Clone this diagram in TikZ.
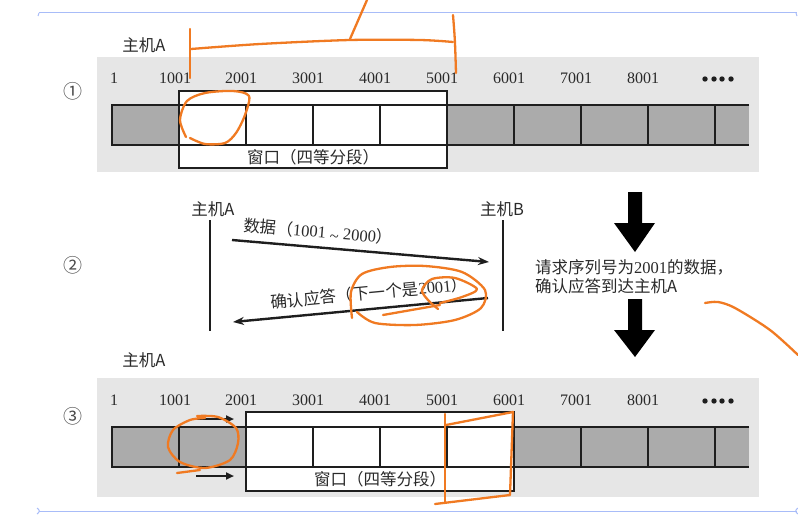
\documentclass[tikz,border=0pt]{standalone}
\usepackage{fontspec}
\setmainfont{Liberation Serif}
\newfontfamily\cjk{Noto Sans CJK SC}
\usetikzlibrary{arrows.meta}
\definecolor{ink}{HTML}{1E1E1E}
\definecolor{txt}{HTML}{2A2A2A}
\definecolor{band}{HTML}{E6E6E6}
\definecolor{cellgray}{HTML}{ABABAB}
\definecolor{penc}{HTML}{F07A22}
\definecolor{rulec}{HTML}{A8BCF8}
\begin{document}
\begin{tikzpicture}[x=1pt,y=-1pt,
  num/.style={font=\fontsize{16}{16}\selectfont, text=txt, inner sep=0pt},
  lab/.style={font=\cjk\fontsize{16.5}{17}\selectfont, text=txt, inner sep=0pt},
  circnum/.style={font=\cjk\fontsize{19}{19}\selectfont, text=txt!85, inner sep=0pt},
  barline/.style={draw=ink, line width=2.2pt},
  wbox/.style={draw=ink, line width=1.7pt, fill=white},
  hostline/.style={draw=ink, line width=2.4pt},
  msg/.style={draw=ink, line width=2.4pt, -{Stealth[length=11pt,width=8pt]}},
  slidearrow/.style={draw=ink, line width=2.4pt, -{Triangle[length=8pt,width=7pt]}},
  bigarrow/.style={fill=black},
  pen/.style={draw=penc, line width=2.3pt, line cap=round, line join=round},
  rule/.style={draw=rulec, line width=1pt}]
\useasboundingbox (0,0) rectangle (798,519);
% page rules
\draw[rule] (39,13) -- (797,13);
\draw[rule] (39,13) -- (38,16);
\draw[rule] (796,13) -- (797,16);
\draw[rule] (39,511) -- (797,511);
\draw[rule] (37,508) .. controls (40,510) and (40,512) .. (37,514);
\draw[rule] (798,508) .. controls (795,510) and (795,512) .. (798,514);

% ---------- panel 1 ----------
\node[lab] (hostA1) at (144,45) {主机A};
\node[circnum] (c1) at (73,91) {①};
\fill[band] (97,57) rectangle (759,172);
\draw[wbox] (179,91) rectangle (447,168);
\fill[cellgray] (112,105) rectangle (179,145);
\fill[cellgray] (447,105) rectangle (749,145);
\draw[barline] (749,105) -- (112,105) -- (112,145) -- (749,145);
\foreach \x in {179,246,313,380,447,514,581,648,715} \draw[barline] (\x,105) -- (\x,145);
\node[lab] (win1) at (313,157) {窗口（四等分段）};
\node[num] (ta) at (114,78) {1};
\foreach \x/\t in {175/1001,241/2001,308/3001,375/4001,442/5001,509/6001,576/7001,643/8001}
  \node[num] (t\t) at (\x,78) {\t};
\foreach \x in {705,714,722,731} \fill[ink] (\x,79) circle (2.7pt);

% ---------- panel 2 ----------
\node[circnum] (c2) at (73,265) {②};
\node[lab] (hA) at (213,209) {主机A};
\node[lab] (hB) at (502,209) {主机B};
\coordinate (hAtop) at (210,220);
\coordinate (hAbot) at (210,331);
\coordinate (hBtop) at (503,220);
\coordinate (hBbot) at (503,331);
\draw[hostline] (hAtop) -- (hAbot);
\draw[hostline] (hBtop) -- (hBbot);
\coordinate (d1) at (232,240);
\coordinate (d2) at (489,262);
\coordinate (a1) at (488,298);
\coordinate (a2) at (233,322);
\draw[msg] (d1) -- node[lab, sloped, above=6pt, pos=0.33] (ldata) {数据（{\rmfamily 1001 \raisebox{-2.5pt}{\textasciitilde} 2000}）} (d2);
\draw[msg] (a1) -- node[lab, sloped, above=7pt, pos=0.46] (lack) {确认应答（下一个是{\rmfamily 2001}）} (a2);
\fill[bigarrow] (628,192) -- (642,192) -- (642,223) -- (655,223) -- (635,252) -- (614,223) -- (628,223) -- cycle;
\fill[bigarrow] (628,299) -- (642,299) -- (642,330) -- (655,330) -- (635,357) -- (614,330) -- (628,330) -- cycle;
\node[lab, anchor=west, align=left] (note) at (535,277) {请求序列号为{\rmfamily 2001}的数据，\\[2pt]确认应答到达主机A};

% ---------- panel 3 ----------
\node[lab] (hostA3) at (144,360) {主机A};
\node[circnum] (c3) at (73,416) {③};
\fill[band] (97,378) rectangle (759,497);
\draw[wbox] (246,412) rectangle (514,491);
\fill[cellgray] (112,427) rectangle (246,467);
\fill[cellgray] (514,427) rectangle (749,467);
\draw[barline] (749,427) -- (112,427) -- (112,467) -- (749,467);
\foreach \x in {179,246,313,380,447,514,581,648,715} \draw[barline] (\x,427) -- (\x,467);
\node[lab] (win3) at (380,479) {窗口（四等分段）};
\node[num] (ub) at (114,400) {1};
\foreach \x/\t in {175/1001,241/2001,308/3001,375/4001,442/5001,509/6001,576/7001,643/8001}
  \node[num] (u\t) at (\x,400) {\t};
\foreach \x in {705,714,722,731} \fill[ink] (\x,401) circle (2.7pt);
\coordinate (s1a) at (196,419);
\coordinate (s1b) at (234,419);
\coordinate (s2a) at (196,476);
\coordinate (s2b) at (234,476);
\draw[slidearrow] (s1a) -- (s1b);
\draw[slidearrow] (s2a) -- (s2b);

% ---------- orange annotations ----------
\draw[pen] (190,29) -- (190,78);
\draw[pen] plot[smooth] coordinates {(191,49) (260,44) (350,40) (420,40) (453,42)};
\draw[pen] (453,15) .. controls (455,40) .. (456,73);
\draw[pen] (350,39) -- (367,0);
\draw[pen] plot[smooth] coordinates {(186,137) (180,120) (187,101) (205,93) (233,91) (249,96) (245,115) (236,133) (225,143) (205,144) (190,138)};
\draw[pen] plot[smooth] coordinates {(352,318) (351,292) (362,274) (390,267) (425,266) (462,272) (485,290) (481,308) (455,320) (415,325) (375,323) (357,312)};
\draw[pen] (383,315) -- (440,305);
\draw[pen] plot[smooth] coordinates {(438,309) (428,300) (422,290) (432,279) (455,278) (477,289) (462,297) (440,303)};
\draw[pen] plot[smooth] coordinates {(705,303) (718,302) (735,308) (770,330) (798,355)};
\draw[pen] plot[smooth] coordinates {(197,416) (218,417) (236,428) (238,443) (230,460) (205,468) (180,462) (168,447) (173,430) (190,420) (205,418)};
\draw[pen] (177,473) -- (200,470);
\draw[pen] (445,414) -- (445,503);
\draw[pen] (446,425) -- (513,412) -- (510,495) -- (435,504);
\end{tikzpicture}
\end{document}
